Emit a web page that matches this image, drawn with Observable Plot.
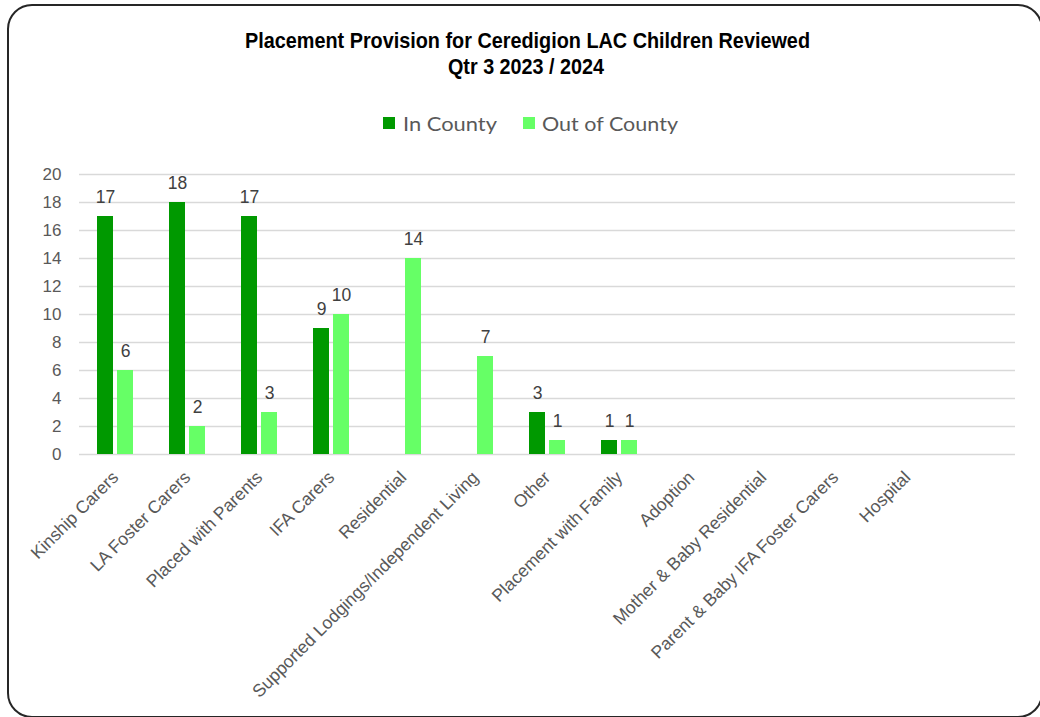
<!DOCTYPE html>
<html>
<head>
<meta charset="utf-8">
<script src="https://cdn.jsdelivr.net/npm/d3@7"></script>
<script src="https://cdn.jsdelivr.net/npm/@observablehq/plot@0.6"></script>
<style>
  html, body { margin: 0; padding: 0; background: #ffffff; }
  #wrap { position: relative; width: 1040px; height: 717px; overflow: hidden; background: #fff; }
  #frame { position: absolute; left: 7px; top: 4px; width: 1036px; height: 714px; box-sizing: border-box;
           border: 2px solid #262626; border-radius: 25px; }
  #header { position: absolute; left: 0; top: 0; }
  #chart { position: absolute; left: 0; top: 150px; }
</style>
</head>
<body>
<div id="wrap">
  <div id="frame"></div>
  <div id="header"></div>
  <div id="chart"></div>
</div>
<script>
// ---- data ----
const titleLines = ["Placement Provision for Ceredigion LAC Children Reviewed", "Qtr 3 2023 / 2024"];
const categories = [
  "Kinship Carers", "LA Foster Carers", "Placed with Parents", "IFA Carers", "Residential",
  "Supported Lodgings/Independent Living", "Other", "Placement with Family", "Adoption",
  "Mother & Baby Residential", "Parent & Baby IFA Foster Carers", "Hospital"
];
const series = ["In County", "Out of County"];
const inCounty  = [17, 18, 17, 9, 0, 0, 3, 1, 0, 0, 0, 0];
const outCounty = [6, 2, 3, 10, 14, 7, 1, 1, 0, 0, 0, 0];
const seriesColors = ["#009900", "#66ff66"];
const yTicks = [0, 2, 4, 6, 8, 10, 12, 14, 16, 18, 20];

const rows = categories.flatMap((c, i) => [
  {category: c, series: series[0], value: inCounty[i]},
  {category: c, series: series[1], value: outCounty[i]}
]);

// ---- header: title + legend ----
const header = d3.select("#header").append("svg")
  .attr("width", 1040).attr("height", 150);

header.append("text")
  .attr("x", 245).attr("y", 48)
  .attr("textLength", 565).attr("lengthAdjust", "spacingAndGlyphs")
  .style("font", "bold 22px 'Liberation Sans Narrow', 'Liberation Sans', Arial, sans-serif")
  .attr("fill", "#000")
  .text(titleLines[0]);
header.append("text")
  .attr("x", 448).attr("y", 74)
  .attr("textLength", 156).attr("lengthAdjust", "spacingAndGlyphs")
  .style("font", "bold 22px 'Liberation Sans Narrow', 'Liberation Sans', Arial, sans-serif")
  .attr("fill", "#000")
  .text(titleLines[1]);

const legendItems = [
  {name: series[0], color: seriesColors[0], sx: 383, tx: 403, tw: 94},
  {name: series[1], color: seriesColors[1], sx: 523, tx: 542, tw: 136}
];
const lg = header.append("g");
lg.selectAll("rect").data(legendItems).join("rect")
  .attr("x", d => d.sx).attr("y", 117).attr("width", 12).attr("height", 12)
  .attr("fill", d => d.color);
lg.selectAll("text").data(legendItems).join("text")
  .attr("x", d => d.tx).attr("y", 131)
  .attr("textLength", d => d.tw).attr("lengthAdjust", "spacingAndGlyphs")
  .style("font", "20px Lato, 'Open Sans', sans-serif")
  .attr("fill", "#595959")
  .text(d => d.name);

// ---- chart ----
const W = 1040, H = 567, mL = 79, mR = 25, mT = 24, mB = 263;
const step = (W - mL - mR) / (categories.length + 1);

const chart = Plot.plot({
  width: W, height: H,
  marginLeft: mL, marginRight: mR, marginTop: mT, marginBottom: mB,
  style: {fontFamily: "'Liberation Sans', Arial, sans-serif", fontSize: "17px", color: "#595959", background: "transparent", overflow: "visible"},
  x: {domain: categories, range: [mL, mL + step * categories.length], padding: 0, label: null},
  y: {domain: [0, 20], label: null},
  color: {domain: series, range: seriesColors},
  marks: [
    Plot.ruleY(yTicks, {stroke: "#d9d9d9", strokeWidth: 1.5}),
    Plot.barY(rows.filter(d => d.series === series[0]), {x: "category", y: "value", fill: "series", insetLeft: 18, insetRight: 38}),
    Plot.barY(rows.filter(d => d.series === series[1]), {x: "category", y: "value", fill: "series", insetLeft: 38, insetRight: 18}),
    Plot.text(rows.filter(d => d.series === series[0] && d.value > 0), {x: "category", y: "value", text: d => String(d.value), dx: -10, dy: -14, lineAnchor: "bottom", fill: "#404040", fontSize: 17.5}),
    Plot.text(rows.filter(d => d.series === series[1] && d.value > 0), {x: "category", y: "value", text: d => String(d.value), dx: 10, dy: -14, lineAnchor: "bottom", fill: "#404040", fontSize: 17.5}),
    Plot.axisY({ticks: yTicks, tickSize: 0, tickPadding: 18, fontSize: 17, label: null}),
    Plot.axisX({tickSize: 0, tickRotate: -45, tickPadding: 20, fontSize: 17.6, label: null})
  ]
});
document.getElementById("chart").appendChild(chart);
</script>
</body>
</html>
